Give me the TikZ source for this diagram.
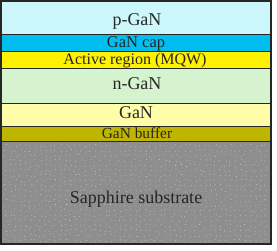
\documentclass[tikz,border=0pt]{standalone}
\usepackage{fontspec}
\setmainfont{Liberation Serif}
\definecolor{pgan}{HTML}{CCF8FC}
\definecolor{capc}{HTML}{00BEF0}
\definecolor{actc}{HTML}{FFF200}
\definecolor{ngan}{HTML}{D4F3CE}
\definecolor{ganc}{HTML}{FFFDA8}
\definecolor{bufc}{HTML}{BFB400}
\definecolor{sapc}{HTML}{8E8E8E}
\definecolor{dotc}{HTML}{D8D8D8}
\begin{document}
\begin{tikzpicture}[x=1pt,y=-1pt,
  layer/.style={draw=black!85, line width=0.8pt},
  lbl/.style={inner sep=0pt, anchor=base, text=black!85}]
\useasboundingbox (0,0) rectangle (277,251);
\fill[white] (0,0) rectangle (277,251);
\fill[layer, fill=pgan] (1,1) rectangle (271,34);
\fill[layer, fill=capc] (1,34) rectangle (271,51);
\fill[layer, fill=actc] (1,51) rectangle (271,68);
\fill[layer, fill=ngan] (1,68) rectangle (271,103);
\fill[layer, fill=ganc] (1,103) rectangle (271,126);
\fill[layer, fill=bufc] (1,126) rectangle (271,141);
\fill[layer, fill=sapc] (1,141) rectangle (271,244);
\pgfmathsetseed{7}
\foreach \i in {0,...,52} {
  \foreach \j in {0,...,19} {
    \pgfmathsetmacro{\xx}{4+\i*5+rnd*3}
    \pgfmathsetmacro{\yy}{144+\j*5+rnd*3}
    \fill[dotc] (\xx,\yy) circle (0.4pt);
  }
}
\draw[line width=1.4pt, black!85] (1,1) rectangle (271,244);
\foreach \y in {34,51,68,103,126,141} \draw[line width=0.8pt, black!85] (1,\y) -- (271,\y);
\node[lbl, font=\fontsize{18}{18}\selectfont] (p) at (137,25.7) {p-GaN};
\node[lbl, font=\fontsize{16.5}{16.5}\selectfont] (cap) at (136,47.5) {GaN cap};
\node[lbl, font=\fontsize{16}{16}\selectfont] (act) at (135,65) {Active region (MQW)};
\node[lbl, font=\fontsize{18}{18}\selectfont] (n) at (137,90) {n-GaN};
\node[lbl, font=\fontsize{18}{18}\selectfont] (g) at (136,119) {GaN};
\node[lbl, font=\fontsize{15.4}{15.4}\selectfont] (buf) at (137,138.3) {GaN buffer};
\node[lbl, font=\fontsize{18}{18}\selectfont] (sap) at (136,203.3) {Sapphire substrate};
\end{tikzpicture}
\end{document}
